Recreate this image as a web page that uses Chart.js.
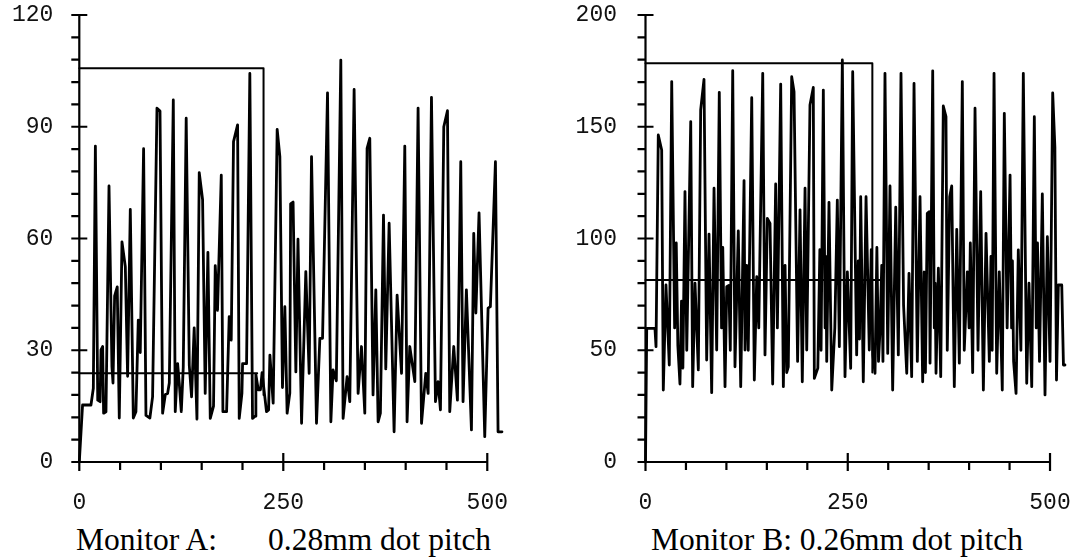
<!DOCTYPE html>
<html><head><meta charset="utf-8">
<script src="https://cdn.jsdelivr.net/npm/chart.js@4/dist/chart.umd.min.js"></script>
<style>
html,body{margin:0;padding:0;background:#fff;width:1073px;height:558px;overflow:hidden;position:relative}
canvas{position:absolute;top:0}
.cap{position:absolute;font-family:'Liberation Serif','Times New Roman',serif;font-size:31.5px;line-height:30px;color:#000;white-space:pre}
</style></head><body>
<canvas id="cA" width="536" height="520" style="left:0;width:536px;height:520px"></canvas>
<canvas id="cB" width="537" height="520" style="left:536px;width:537px;height:520px"></canvas>
<div class="cap" style="left:76px;top:525px">Monitor A:</div>
<div class="cap" style="left:268px;top:525px">0.28mm dot pitch</div>
<div class="cap" style="left:651px;top:525px">Monitor B: 0.26mm dot pitch</div>
<script>
// ---- tick labels ----
const xTickLabels = [0, 250, 500];
const xMinorTicks = [50, 100, 150, 200, 300, 350, 400, 450];
const aYTickLabels = [0, 30, 60, 90, 120];
const aYMinorTicks = [6, 12, 18, 24, 36, 42, 48, 54, 66, 72, 78, 84, 96, 102, 108, 114];
const bYTickLabels = [0, 50, 100, 150, 200];
const bYMinorTicks = [10, 20, 30, 40, 60, 70, 80, 90, 110, 120, 130, 140, 160, 170, 180, 190];

// ---- Monitor A series (turning points) ----
const aX = [0,4,14.3,17.2,19.7,22.6,25.5,26.6,28.6,29.8,32.7,36.4,40,41.3,43.3,46.5,49,52.3,56.4,59.2,62.5,66.2,69.4,72.3,74.7,78.8,81.7,86.5,89.8,95.2,98.9,102.1,105.4,108.2,110.3,115.2,117.6,120.5,122.5,125,127.4,131,134.8,137.6,140.8,144.2,147,151.1,154.3,157.6,160.5,164.5,166.6,169.4,174,176,180.5,183.7,186.2,189,194,196,199.3,200.1,205,209,212.3,215.6,216.4,219.3,222,224,229.4,232,233.6,237.6,242.5,245.8,249,251.9,254.7,258,259,262,265.4,268,272.4,277.6,281.7,284.6,290.7,294.8,298.1,304.2,308.3,311,315,320.5,323.3,328.2,331.5,336.8,341.7,345.8,349.9,352.7,356,360,363.4,366.2,369,372.8,375.6,379.7,385.8,389.5,394.9,398.9,401.7,405,411.2,415.2,419.4,424.6,427.5,431.6,436.5,439.7,442.6,446.7,451.2,454,458.9,463.4,467.5,470.3,474.4,480.6,483.4,486,489.9,496.9,501,503.8,510,513.2,518];
const aY = [0,15.3,15.3,19.8,84.8,16.6,16.2,30.1,31,13.1,13.5,74.1,25.6,21.2,44.6,47,11.8,59.1,52.4,23,67.8,11.8,13.5,38.1,29.4,84.1,12.5,11.8,17.5,95,94.2,13.1,18.1,18.4,21.2,97.2,13.5,26.4,21.2,13.5,25.4,92.3,25.9,17.5,36,11.5,77.7,70.4,18.4,56.3,11.7,15,52.7,40.7,77,13.5,13.5,39,32.7,86,90.5,11.7,18.4,26.4,26.4,104.3,11.7,12.3,23.5,19.4,19.4,24,13.5,14,28.7,15.8,89.3,82,20,41.7,13.1,18.5,69.3,69.8,24.2,59.8,10.4,51.1,23.8,82,10.4,33.2,33.2,99.1,10.8,24.7,21.8,107.9,11.7,22.9,16.2,100,18.4,31,13.1,84.2,86.9,18,46.2,10.8,13.1,66.3,25,64.1,8.1,44.8,23.8,84.8,10.8,31,21.6,95,10.4,23.8,18.4,97.9,16.2,21.6,14,90,94.3,13.5,31,16.6,80.6,16.2,46.2,8.6,61.4,40,66.9,6.8,41.3,41.7,80.6,8.1,8.1];
const aMeanX = [0, 218];
const aMeanY = [23.8, 23.8];
const aMaxX = [0, 225.8, 225.8];
const aMaxY = [105.7, 105.7, 18];

// ---- Monitor B series ----
const bX = [0,1.5,11.7,13,15.8,20,22,25.3,29.4,32.4,36,38,40,42.6,44.5,46.2,48.8,51,55.9,58.3,61.2,65.3,68.2,72.3,75.6,78.5,81.8,84.7,88,91.2,94,95.5,98.3,100.4,103,104.8,107.8,110.6,114.7,117.7,121.8,123,125,127,131.3,134.5,137.5,140,144.9,147.7,150.6,153.9,157.2,160.9,163,167.1,170.4,172.5,174.5,176.5,180.7,183.6,188,191,193.8,197.2,199.3,203.3,207.4,208.7,213,215.5,217,219.8,222,223,224,226.8,230.2,234,237.1,239.6,243.3,246.6,249.5,253.6,256.1,261,263,264.5,266,269.2,272.6,276.6,279,281,283.7,286,288,290,292,293.5,296,299.4,302.2,305.5,309.3,312.5,315.8,319,322.9,325.7,329,331.9,336,339.3,342.6,344.5,346,348.3,350.8,351.7,355,357,358,359.1,362,364.9,368.1,371.4,373,376,378.5,381.7,384.7,387.9,391.6,394,397.8,400,401.5,404.4,407.3,411,414.3,417.6,420.9,425,427,428.5,430.8,434.1,437.3,441,443.5,447,450.6,452.5,453.5,455,458,460.8,464,467,471.2,474,477.4,480.6,483,484.5,487,490.5,493.8,496.7,500,503.3,506,508,510.3,514.5,516.6,518.5];
const bY = [0,59.8,59.8,51.6,146.3,139.6,32.2,79.2,43.4,170.2,60,98,52,34.9,72,42,121,50,152.3,33.7,80,41.2,157.5,171.2,45.6,102,31,122.5,50.1,165.4,60,96,33.7,78.4,79,50,175.1,42.6,103.4,33.7,125.9,50.1,88,50,163,36.7,82.9,60,173.9,47.9,109,106.8,34.9,124.4,60,169.1,33.7,88,40,42.6,172.4,165.7,45,112.8,35.9,122.5,50.1,159.7,167.6,37.4,42,95,50,166.4,60,92,45,116.2,32.2,60,117.2,51.6,179.9,38.2,85.1,41.9,174.6,47.9,90,55,118.7,35.9,118.7,50.1,95,48,39.7,96,45,60,88,45,173.9,48.6,123.5,32.2,114,47.9,173.9,70,39.7,84.4,38.2,169.4,45,118.7,35.9,85,40,111.3,112,44.2,175,60,80,39.7,86.7,38.2,159.3,154.5,50,118.7,123.5,33.7,104.1,44.2,170.2,50,85.1,60,98,40,158.3,50,121,32.2,102.3,45,92,50,173.9,39.7,85.1,32.2,156,60,128.4,60,90,45,30.7,94.9,50,173.9,35.2,80,33.7,154.5,60,98,45,119.9,30,100.8,45,165.2,141,36.7,79.2,79.2,43.4,43.4];
const bMeanX = [0, 290.7];
const bMeanY = [81.4, 81.4];
const bMaxX = [0, 280.4, 280.4];
const bMaxY = [178.4, 178.4, 40];

const axesPlugin = {
  id: 'axesDraw',
  afterDatasetsDraw(chart, args, o) {
    const ctx = chart.ctx, xs = chart.scales.x, ys = chart.scales.y;
    const x0 = xs.getPixelForValue(0), y0 = ys.getPixelForValue(0);
    const xEnd = xs.getPixelForValue(o.xEnd), yTop = ys.getPixelForValue(o.yEnd);
    ctx.save();
    ctx.strokeStyle = '#000'; ctx.lineWidth = 2.2; ctx.lineCap = 'butt';
    ctx.beginPath();
    ctx.moveTo(x0, y0); ctx.lineTo(xEnd + 1, y0);
    ctx.moveTo(x0, y0 + 1); ctx.lineTo(x0, yTop - 1);
    o.xMajor.forEach(v => { const p = xs.getPixelForValue(v); ctx.moveTo(p, y0 - 9); ctx.lineTo(p, y0 + 9); });
    o.xMinor.forEach(v => { const p = xs.getPixelForValue(v); ctx.moveTo(p, y0); ctx.lineTo(p, y0 + 8); });
    o.yMajor.forEach(v => { const p = ys.getPixelForValue(v); ctx.moveTo(x0 - 8, p); ctx.lineTo(x0 + 8, p); });
    o.yMinor.forEach(v => { const p = ys.getPixelForValue(v); ctx.moveTo(x0 - 8, p); ctx.lineTo(x0, p); });
    ctx.stroke();
    ctx.restore();
  }
};

function pts(xs, ys) { return xs.map((v, i) => ({x: v, y: ys[i]})); }

function makeChart(id, o) {
  const ds = o.series.map((s, k) => ({
    data: pts(s[0], s[1]), borderColor: '#000', borderWidth: k === 0 ? 2.8 : 2, pointRadius: 0,
    tension: 0, fill: false, borderJoinStyle: 'round', borderCapStyle: 'round', clip: false
  }));
  const tickFont = {family: "'Liberation Mono', 'DejaVu Sans Mono', monospace", size: 23};
  return new Chart(document.getElementById(id), {
    type: 'line',
    data: {datasets: ds},
    options: {
      responsive: false, animation: false, devicePixelRatio: 1, events: [],
      layout: {padding: {left: 0, top: 15, right: o.padRight, bottom: 0}},
      plugins: {
        legend: {display: false}, tooltip: {enabled: false},
        axesDraw: {xEnd: 500, yEnd: o.yMax, xMajor: xTickLabels, xMinor: xMinorTicks, yMajor: o.yTicks, yMinor: o.yMinor}
      },
      scales: {
        x: {
          type: 'linear', min: 0, max: 520,
          grid: {display: false, drawTicks: false}, border: {display: false},
          afterBuildTicks: s => { s.ticks = xTickLabels.map(v => ({value: v})); },
          ticks: {padding: 27, font: tickFont, color: '#111', maxRotation: 0, minRotation: 0, autoSkip: false},
          afterFit: s => { s.height = 58; s.paddingLeft = 0; s.paddingRight = 0; }
        },
        y: {
          type: 'linear', min: 0, max: o.yMax,
          grid: {display: false, drawTicks: false}, border: {display: false},
          afterBuildTicks: s => { s.ticks = o.yTicks.map(v => ({value: v})); },
          ticks: {padding: o.yPad, font: tickFont, color: '#111', autoSkip: false},
          afterFit: s => { s.width = o.yAxisW; s.paddingTop = 0; s.paddingBottom = 0; }
        }
      }
    },
    plugins: [axesPlugin]
  });
}

makeChart('cA', {
  series: [[aX, aY], [aMeanX, aMeanY], [aMaxX, aMaxY]],
  yMax: 120, yTicks: aYTickLabels, yMinor: aYMinorTicks,
  yAxisW: 79.3, yPad: 26, padRight: 32.4
});
makeChart('cB', {
  series: [[bX, bY], [bMeanX, bMeanY], [bMaxX, bMaxY]],
  yMax: 200, yTicks: bYTickLabels, yMinor: bYMinorTicks,
  yAxisW: 109.5, yPad: 28.5, padRight: 6.8
});
</script>
</body></html>
